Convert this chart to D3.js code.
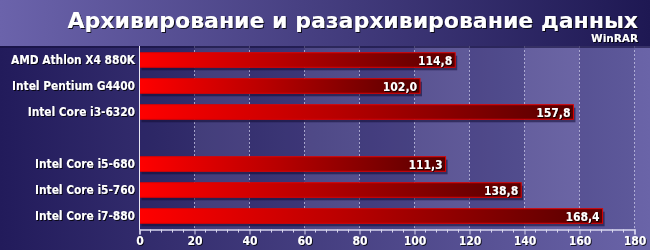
<!DOCTYPE html>
<html>
<head>
<meta charset="utf-8">
<script src="https://cdn.jsdelivr.net/npm/d3@7"></script>
<style>
  html, body { margin: 0; padding: 0; background: #231c5c; }
  svg { display: block; }
  text { font-family: "DejaVu Sans Condensed", "DejaVu Sans", Verdana, sans-serif; font-weight: bold; fill: #fff; }
</style>
</head>
<body>
<div id="chart"></div>
<script>
// chart data
const processors = ["AMD Athlon X4 880K", "Intel Pentium G4400", "Intel Core i3-6320",
                    "Intel Core i5-680", "Intel Core i5-760", "Intel Core i7-880"];
const scores = [114.8, 102.0, 157.8, 111.3, 138.8, 168.4];
const groups = [0, 0, 0, 1, 1, 1];   // gap between the two groups
const xTicks = [0, 20, 40, 60, 80, 100, 120, 140, 160, 180];
const title = "Архивирование и разархивирование данных";
const subtitle = "WinRAR";

const width = 650, height = 250;
const headerH = 46;

let svg = d3.select('#chart')
    .append('svg')
    .attr('width', width)
    .attr('height', height);

let defs = svg.append('defs');

// background gradients
let bgGrad = defs.append('linearGradient').attr('id', 'bg');
bgGrad.append('stop').attr('offset', '0%').attr('stop-color', '#221b5b');
bgGrad.append('stop').attr('offset', '100%').attr('stop-color', '#6a64a8');

let headGrad = defs.append('linearGradient').attr('id', 'head');
headGrad.append('stop').attr('offset', '0%').attr('stop-color', '#6b63ab');
headGrad.append('stop').attr('offset', '100%').attr('stop-color', '#1e1853');

let barGrad = defs.append('linearGradient').attr('id', 'bar');
barGrad.append('stop').attr('offset', '0%').attr('stop-color', '#ff0000');
barGrad.append('stop').attr('offset', '45%').attr('stop-color', '#b80000');
barGrad.append('stop').attr('offset', '100%').attr('stop-color', '#560000');

let shadow = defs.append('filter').attr('id', 'txtShadow')
    .attr('x', '-10%').attr('y', '-20%').attr('width', '130%').attr('height', '150%');
shadow.append('feDropShadow').attr('dx', 1).attr('dy', 1).attr('stdDeviation', 0.6)
    .attr('flood-color', '#000').attr('flood-opacity', 0.8);

svg.append('rect').attr('width', width).attr('height', height).attr('fill', 'url(#bg)');

// scales
let x = d3.scaleLinear().domain([0, 180]).range([139.5, 634.5]);

let rowKeys = [];
processors.forEach((p, i) => {
    if (i > 0 && groups[i] !== groups[i - 1]) rowKeys.push('gap' + i);
    rowKeys.push(p);
});

let y = d3.scaleBand()
    .domain(rowKeys)
    .range([headerH + 1, 229])
    .paddingInner(0.44)
    .paddingOuter(0.22);

// plot area column stripes
let cols = xTicks.slice(0, -1);
svg.append('g').selectAll('rect')
    .data(cols)
    .enter()
    .append('rect')
    .attr('x', d => x(d))
    .attr('y', headerH)
    .attr('width', d => x(d + 20) - x(d))
    .attr('height', 229 - headerH)
    .attr('fill', (d, i) => i % 2 ? '#ffffff' : '#000030')
    .attr('opacity', (d, i) => i % 2 ? 0.06 : 0.1);

// grid lines
svg.append('g').selectAll('line')
    .data(xTicks.slice(1))
    .enter()
    .append('line')
    .attr('x1', d => x(d)).attr('x2', d => x(d))
    .attr('y1', headerH).attr('y2', 229)
    .attr('stroke', '#c8c6e6')
    .attr('stroke-width', 1)
    .attr('stroke-dasharray', '2,2')
    .attr('opacity', 0.75);

// header
svg.append('rect').attr('width', width).attr('height', headerH).attr('fill', 'url(#head)');
svg.append('rect').attr('y', headerH).attr('width', width).attr('height', 2)
    .attr('fill', '#140f3c').attr('opacity', 0.6);

svg.append('text')
    .attr('x', 638).attr('y', 28)
    .attr('text-anchor', 'end')
    .style('font-family', '"DejaVu Sans", Verdana, sans-serif')
    .style('font-size', '22px')
    .attr('filter', 'url(#txtShadow)')
    .text(title);

svg.append('text')
    .attr('x', 638).attr('y', 42)
    .attr('text-anchor', 'end')
    .style('font-family', '"DejaVu Sans", Verdana, sans-serif')
    .style('font-size', '10.5px')
    .attr('filter', 'url(#txtShadow)')
    .text(subtitle);

// bars
let bars = svg.append('g').selectAll('g')
    .data(processors.map((p, i) => ({ name: p, value: scores[i] })))
    .enter()
    .append('g');

bars.append('rect')
    .attr('x', x(0) + 2)
    .attr('y', d => y(d.name) + 3)
    .attr('width', d => x(d.value) - x(0))
    .attr('height', y.bandwidth())
    .attr('fill', '#120d34')
    .attr('opacity', 0.55);

bars.append('rect')
    .attr('x', x(0))
    .attr('y', d => y(d.name))
    .attr('width', d => x(d.value) - x(0))
    .attr('height', y.bandwidth())
    .attr('fill', 'url(#bar)')
    .attr('stroke', '#e00000')
    .attr('stroke-width', 1);

let fmt = d3.format('.1f');
bars.append('text')
    .attr('x', d => x(d.value) - 3)
    .attr('y', d => y(d.name) + y.bandwidth() / 2 + 4.5)
    .attr('text-anchor', 'end')
    .attr('font-size', 12)
    .attr('filter', 'url(#txtShadow)')
    .text(d => fmt(d.value).replace('.', ','));

// category labels
svg.append('g').selectAll('text')
    .data(processors)
    .enter()
    .append('text')
    .attr('x', 135)
    .attr('y', d => y(d) + y.bandwidth() / 2 + 4)
    .attr('text-anchor', 'end')
    .attr('font-size', 11.8)
    .attr('filter', 'url(#txtShadow)')
    .text(d => d);

// y axis line
svg.append('line')
    .attr('x1', x(0)).attr('x2', x(0))
    .attr('y1', headerH).attr('y2', 230)
    .attr('stroke', '#e8e8f4').attr('stroke-width', 1);

// x axis
let xAxis = d3.axisBottom(x)
    .tickValues(xTicks)
    .tickSize(5)
    .tickPadding(2)
    .tickFormat(d3.format('d'));

let axisG = svg.append('g')
    .attr('transform', 'translate(0,229.5)')
    .call(xAxis);

axisG.select('.domain').attr('stroke', '#d8d6ee').attr('stroke-width', 1.5);
axisG.selectAll('.tick line').attr('stroke', '#d8d6ee');
axisG.selectAll('.tick text')
    .attr('fill', '#fff')
    .attr('font-size', 12)
    .attr('filter', 'url(#txtShadow)');

// minor ticks
axisG.append('g').selectAll('line')
    .data(d3.range(0, 181, 4).filter(v => v % 20 !== 0))
    .enter()
    .append('line')
    .attr('x1', d => x(d)).attr('x2', d => x(d))
    .attr('y1', 0).attr('y2', 3)
    .attr('stroke', '#d8d6ee');
</script>
</body>
</html>
